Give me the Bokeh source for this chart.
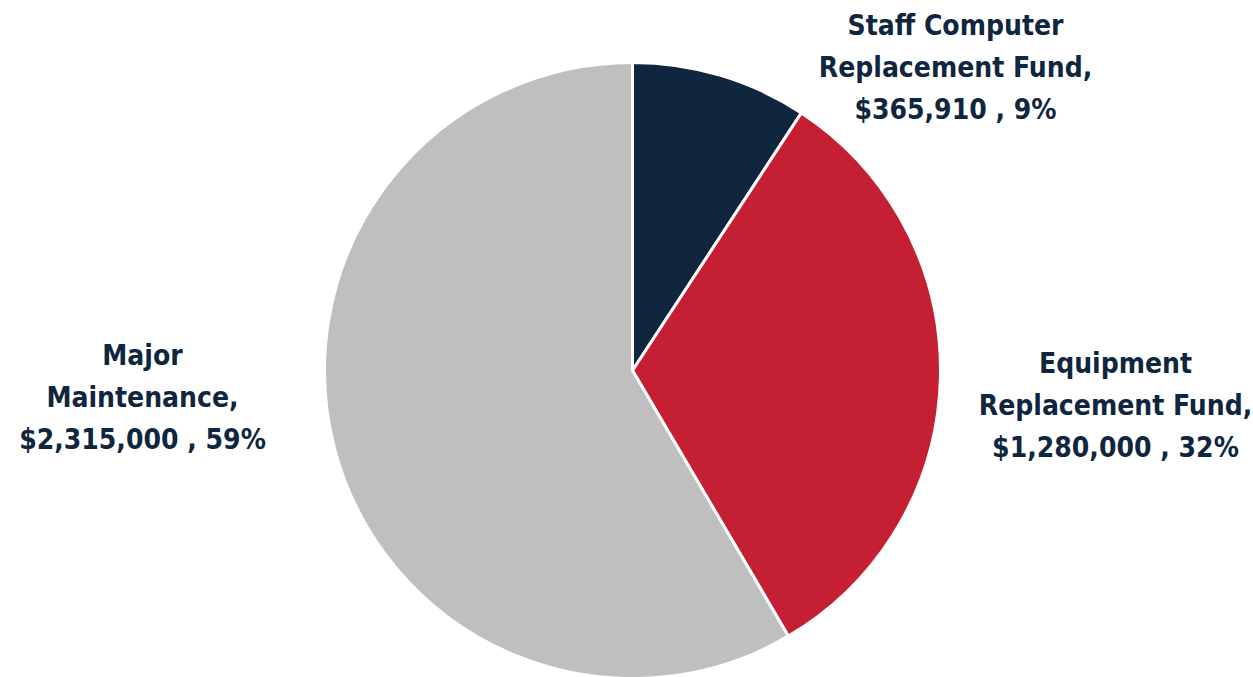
import math
from bokeh.plotting import figure
from bokeh.models import Range1d, ColumnDataSource
from bokeh.core.properties import value
from bokeh.embed import file_html
from bokeh.resources import INLINE

# ---- data ----
categories = ["Staff Computer Replacement Fund", "Equipment Replacement Fund", "Major Maintenance"]
amounts = [365910, 1280000, 2315000]
labels = ["Staff Computer\nReplacement Fund,\n$365,910 , 9%",
          "Equipment\nReplacement Fund,\n$1,280,000 , 32%",
          "Major\nMaintenance,\n$2,315,000 , 59%"]
colors = ["#10263F", "#C41F33", "#BFBFBF"]

W, H = 1253, 677
cx, cy, r = 632, H - 370, 308

total = sum(amounts)
starts, ends = [], []
cum = 0.0
for a in amounts:
    starts.append(math.pi / 2 - cum / total * 2 * math.pi)
    cum += a
    ends.append(math.pi / 2 - cum / total * 2 * math.pi)

src = ColumnDataSource(dict(x=[cx] * 3, y=[cy] * 3, start=starts, end=ends, color=colors, cat=categories))

p = figure(width=W, height=H, x_range=Range1d(0, W), y_range=Range1d(0, H),
           output_backend="svg", toolbar_location=None, min_border=0)
p.axis.visible = False
p.grid.visible = False
p.outline_line_color = None
p.background_fill_color = "white"
p.border_fill_color = "white"

p.wedge(x="x", y="y", radius=r, start_angle="start", end_angle="end", direction="clock",
        fill_color="color", line_color="white", line_width=3, source=src)

# label anchors (layout)
lx = [955, 1115, 142]
ly = [H - 67, H - 405, H - 397]
p.text(x=lx, y=ly, text=labels, text_align="center", text_baseline="middle",
       text_font=value("'DejaVu Sans Condensed', 'Roboto Condensed', 'Arial Narrow', Roboto, sans-serif"),
       text_font_style="bold",
       text_font_size="28px", text_color="#10263F", text_line_height=1.27)

open("out.html", "w").write(file_html(p, INLINE))
